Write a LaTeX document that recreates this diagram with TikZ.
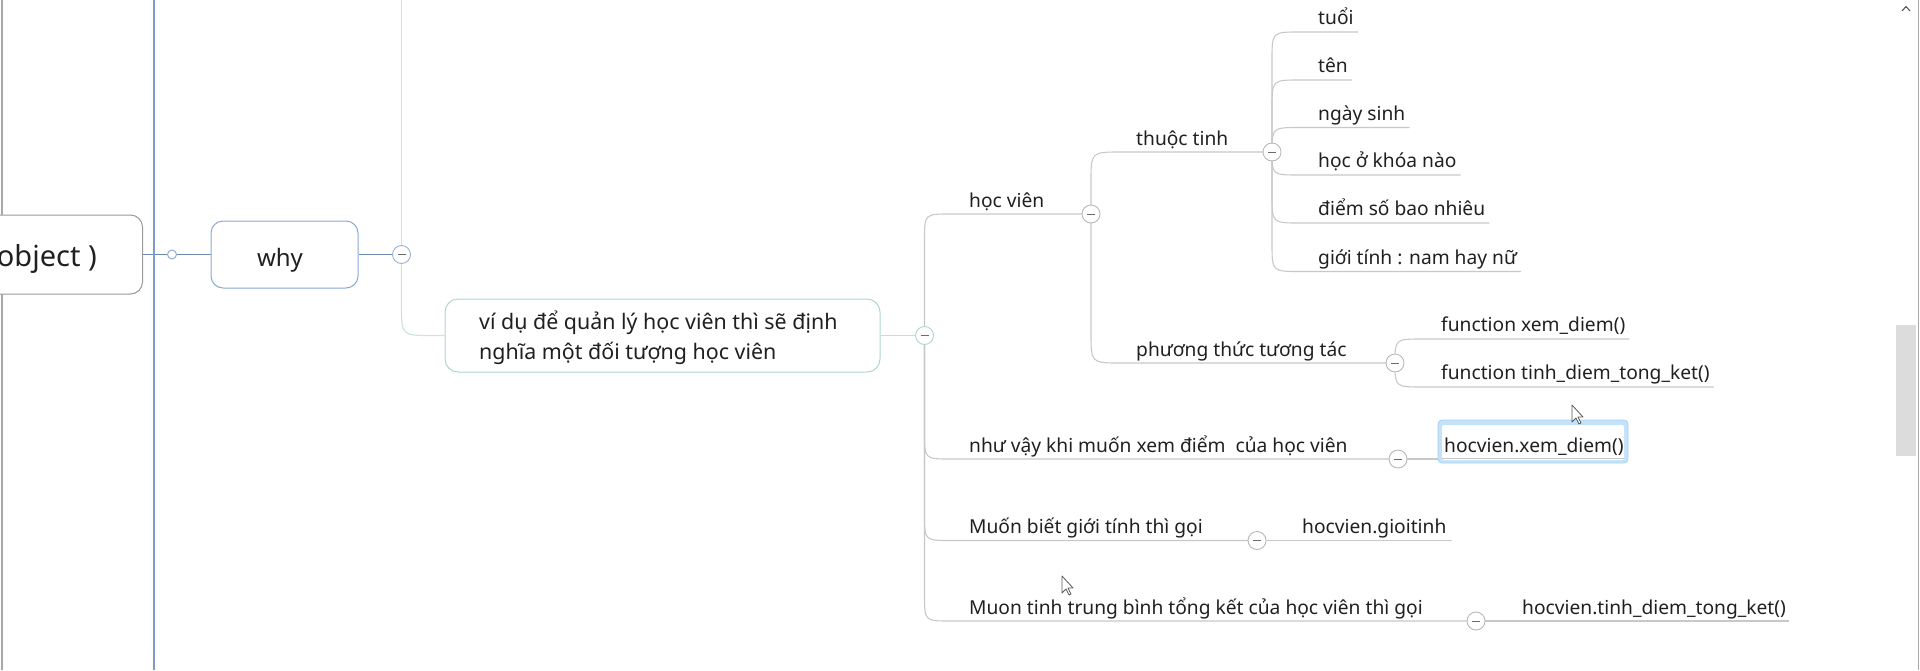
\documentclass[tikz,border=0pt]{standalone}
\usepackage{fontspec}
\setmainfont{Noto Sans}
\usetikzlibrary{calc,backgrounds}
\definecolor{txt}{HTML}{202020}
\definecolor{objb}{HTML}{9A9A9A}
\definecolor{whyb}{HTML}{8AA9D6}
\definecolor{bline}{HTML}{7F9CC6}
\definecolor{bconn}{HTML}{6F8AB0}
\definecolor{gline}{HTML}{CDE5DB}
\definecolor{vidub}{HTML}{AED9C8}
\definecolor{connc}{HTML}{C8C8C8}
\definecolor{circb}{HTML}{B8B8B8}
\definecolor{minusc}{HTML}{6A6A6A}
\definecolor{selfill}{HTML}{C4E3FA}
\definecolor{seldraw}{HTML}{A6D2F4}
\definecolor{scrollc}{HTML}{DCDCDC}
\definecolor{edgec}{HTML}{A8A8A8}
\newcommand\xbrU[3]{\draw[conn] (#1.center) -- ($(#1.center |- #2)+(0,#3)$) .. controls (#1.center |- #2) .. ($(#1.center |- #2)+(#3,0)$) -- (#2);}
\newcommand\xbrD[3]{\draw[conn] (#1.center) -- ($(#1.center |- #2)+(0,-#3)$) .. controls (#1.center |- #2) .. ($(#1.center |- #2)+(#3,0)$) -- (#2);}
\newcommand\xbrC[3]{\draw[conn] (#1.center) .. controls (#1.center |- #2) .. ($(#1.center |- #2)+(#3,0)$) -- (#2);}
\begin{document}
\begin{tikzpicture}[x=1pt,y=-1pt,
  lbl/.style={anchor=base west, inner sep=0pt, text=txt, font=\fontsize{19.2}{23}\selectfont},
  vdtext/.style={anchor=base west, inner sep=0pt, text=txt, font=\fontsize{21.4}{26}\selectfont},
  big/.style={inner sep=0pt, text=txt, font=\fontsize{24}{29}\selectfont},
  coll/.style={circle, draw=circb, fill=white, line width=0.9pt, minimum size=18pt, inner sep=0pt,
    path picture={\draw[minusc, line width=0.9pt] ([xshift=-4pt]path picture bounding box.center) -- ([xshift=4pt]path picture bounding box.center);}},
  conn/.style={draw=connc, line width=1.1pt},
  cursor/.style={draw=black!65, fill=white, line width=0.8pt, line join=round},
]
\useasboundingbox (0,0) rectangle (1920,670);
\clip (0,0) rectangle (1920,670);

% window elements
\draw[edgec, line width=2pt] (1.5,0) -- (1.5,670);
\draw[bline, line width=2pt] (154,0) -- (154,670);
\fill[scrollc] (1896,325) rectangle (1916,456);
\draw[edgec, line width=1pt] (1918.5,0) -- (1918.5,670);
\draw[black!70, line width=1pt] (1902,11) -- (1906,6.5) -- (1910,11);

% root and why
\node[draw=objb, fill=white, line width=1pt, rounded corners=12pt, anchor=east, minimum width=220pt, minimum height=79pt] (obj) at (143,254.5) {};
\node[big, anchor=base east, font=\fontsize{29}{34}\selectfont] (objt) at (97,266) {object )};
\node[circle, draw=whyb, fill=white, line width=0.9pt, minimum size=9pt, inner sep=0pt] (sc) at (172,254.5) {};
\node[draw=whyb, fill=white, line width=1pt, rounded corners=12pt, minimum width=147pt, minimum height=67pt] (why) at (284.5,254.5) {};
\node[big, anchor=base] (whyt) at (280,266) {why};
\node[coll, draw=whyb!90] (c0) at (401.5,254.5) {};
\coordinate (gtop) at (401.5,0);

% example box
\node[draw=vidub, fill=white, line width=1pt, rounded corners=13pt, minimum width=435pt, minimum height=73pt] (vidu) at (662.5,335.5) {};
\node[vdtext] (vd1) at (479,329) {ví dụ để quản lý học viên thì sẽ định};
\node[vdtext] (vd2) at (479,359.5) {nghĩa một đối tượng học viên};
\node[coll, draw=vidub] (c1) at (924.5,335.5) {};

% level 2
\node[lbl] (hv) at (969,207) {học viên};
\node[coll] (c2) at (1091,214) {};
\node[lbl] (nv) at (969,452) {như vậy khi muốn xem điểm\ \ của học viên};
\node[coll] (c5) at (1398,459) {};
\node[lbl] (mb) at (969,533.5) {Muốn biết giới tính thì gọi};
\node[coll] (c6) at (1257,540.5) {};
\node[lbl] (mt) at (969,614) {Muon tinh trung bình tổng kết của học viên thì gọi};
\node[coll] (c7) at (1476,621) {};

% level 3
\node[lbl] (tt) at (1136,145) {thuộc tinh};
\node[coll] (c3) at (1272,152) {};
\node[lbl] (pt) at (1136,356) {phương thức tương tác};
\node[coll] (c4) at (1395,363) {};

% attributes
\node[lbl] (a1) at (1318,24.5) {tuổi};
\node[lbl] (a2) at (1318,72.5) {tên};
\node[lbl] (a3) at (1318,120) {ngày sinh};
\node[lbl] (a4) at (1318,167.5) {học ở khóa nào};
\node[lbl] (a5) at (1318,215.5) {điểm số bao nhiêu};
\node[lbl] (a6) at (1318,264) {giới tính : nam hay nữ};
\foreach \i in {1,...,6} {\coordinate (a\i E) at ($(a\i.base east)+(4,7.5)$);}

% methods
\node[lbl] (f1) at (1441,331.5) {function xem\_diem()};
\node[lbl] (f2) at (1441,379.5) {function tinh\_diem\_tong\_ket()};
\coordinate (f1E) at ($(f1.base east)+(4,7.5)$);
\coordinate (f2E) at ($(f2.base east)+(4,7.5)$);

% leaves
\node[draw=seldraw, fill=selfill, line width=0.8pt, rounded corners=4pt, minimum width=190pt, minimum height=43pt] (hx) at (1533,441.5) {};
\node[fill=white, rounded corners=2pt, minimum width=182pt, minimum height=35pt, inner sep=0pt] (hxin) at (1533,442.5) {};
\draw[connc, line width=1pt] ($(hxin.south west)+(0,-1.5)$) -- ($(hxin.south east)+(0,-1.5)$);
\node[lbl] (hxt) at (1444,452) {hocvien.xem\_diem()};
\node[lbl] (gt) at (1302,533.5) {hocvien.gioitinh};
\coordinate (gtE) at ($(gt.base east)+(5,7)$);
\node[lbl] (tk) at (1522,614) {hocvien.tinh\_diem\_tong\_ket()};
\coordinate (tkE) at ($(tk.base east)+(3,7)$);

% connectors
\begin{pgfonlayer}{background}
\draw[bconn, line width=1.1pt] (obj.east) -- (sc.west);
\draw[bconn, line width=1.1pt] (sc.east) -- (why.west);
\draw[bconn, line width=1.1pt] (why.east) -- (c0.center);
\draw[gline, line width=1.2pt] (gtop) -- (c0.center);
\draw[gline, line width=1.2pt] (c0.center) -- ($(c0.center |- vidu.west)+(0,-30)$) .. controls (c0.center |- vidu.west) .. ($(c0.center |- vidu.west)+(30,0)$) -- (vidu.west);
\draw[gline!70!connc, line width=1.1pt] (vidu.east) -- (c1.center);
\xbrU{c1}{c2.center}{26}
\xbrD{c1}{c5.center}{26}
\xbrD{c1}{c6.center}{26}
\xbrD{c1}{c7.center}{26}
\xbrU{c2}{c3.center}{30}
\xbrD{c2}{c4.center}{30}
\xbrU{c3}{a1E}{28}
\xbrU{c3}{a2E}{28}
\xbrC{c3}{a3E}{28}
\xbrC{c3}{a4E}{28}
\xbrD{c3}{a5E}{28}
\xbrD{c3}{a6E}{28}
\xbrC{c4}{f1E}{28}
\xbrC{c4}{f2E}{28}
\draw[conn] (c5.center) -- (c5.center -| hx.west);
\draw[conn] (c6.center) -- (c6.center -| gtE);
\draw[conn] (c7.center) -- (c7.center -| tkE);
\end{pgfonlayer}

% cursors
\draw[cursor] (1572,405) -- ++(0,17) -- ++(4,-4) -- ++(3,6) -- ++(2,-1) -- ++(-3,-6) -- ++(5,0) -- cycle;
\draw[cursor] (1062,576) -- ++(0,17) -- ++(4,-4) -- ++(3,6) -- ++(2,-1) -- ++(-3,-6) -- ++(5,0) -- cycle;
\end{tikzpicture}
\end{document}
